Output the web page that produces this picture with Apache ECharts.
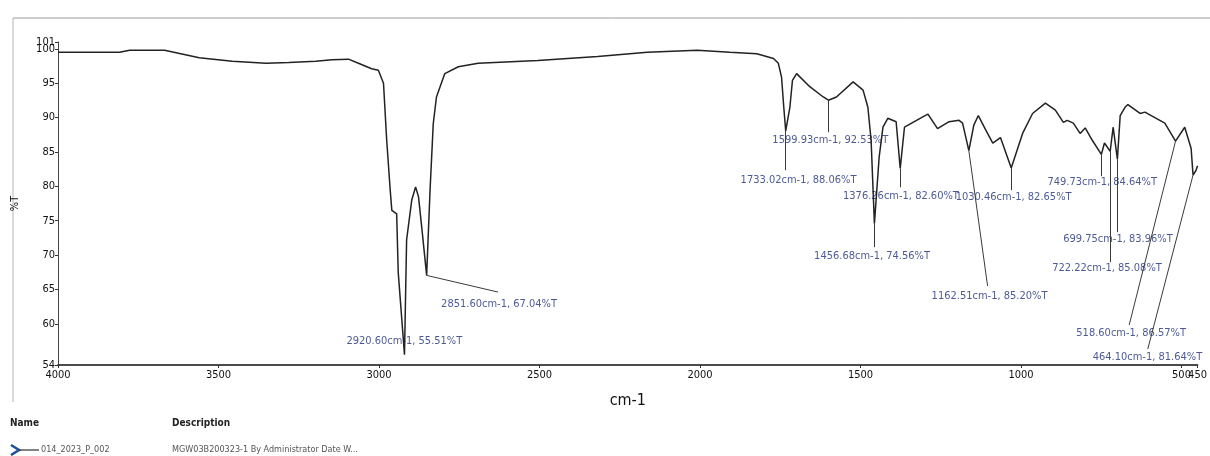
<!DOCTYPE html>
<html>
<head>
<meta charset="UTF-8">
<title>014_2023_P_002</title>
<script src="https://cdn.jsdelivr.net/npm/echarts@6/dist/echarts.min.js"></script>
<style>
html,body{margin:0;padding:0;background:#fff;}
#spectrum{width:1210px;height:456px;}
</style>
</head>
<body>
<div id="spectrum"></div>
<script>
// spectrum, wavenumber (cm-1) descending
var wavenumbers = [
  4000, 3808, 3777, 3668, 3560, 3457, 3352, 3281, 3197, 3147, 3095, 3064, 3023, 3002,
  2986, 2976, 2965, 2960, 2945, 2940, 2920.6, 2914, 2898, 2886, 2877, 2867, 2851.6,
  2841, 2831, 2821, 2795, 2753, 2691, 2505, 2319, 2164, 2009, 1907, 1823, 1771, 1756,
  1746, 1739, 1733.02, 1720, 1712, 1699, 1658, 1616, 1599.93, 1575, 1523, 1492, 1477,
  1467, 1456.68, 1442, 1430, 1415, 1389, 1376.26, 1363, 1306, 1290, 1260, 1224, 1193,
  1182, 1162.51, 1147, 1133, 1110, 1088, 1064, 1030.46, 995, 964, 924, 893, 868, 856,
  837, 816, 800, 778, 749.73, 740, 722.22, 713, 699.75, 691, 676, 667, 629, 614, 552,
  518.6, 490, 470, 464.1, 455, 450
];
var transmittance = [
  99.5, 99.5, 99.8, 99.8, 98.7, 98.2, 97.9, 98.0, 98.2, 98.4, 98.5, 97.9, 97.1, 96.9,
  95.0, 86.7, 79.4, 76.5, 76.0, 67.4, 55.51, 72.2, 78.0, 79.9, 78.5, 74.1, 67.04,
  79.4, 89.1, 93.0, 96.4, 97.4, 97.9, 98.3, 98.9, 99.5, 99.8, 99.5, 99.3, 98.6, 97.9,
  95.9, 91.5, 88.06, 91.5, 95.4, 96.4, 94.5, 93.0, 92.53, 93.0, 95.2, 94.0, 91.5,
  86.7, 74.56, 84.2, 88.6, 89.9, 89.4, 82.6, 88.6, 90.1, 90.5, 88.4, 89.4, 89.6,
  89.2, 85.2, 88.9, 90.3, 88.2, 86.3, 87.1, 82.65, 87.7, 90.6, 92.1, 91.1, 89.3, 89.6,
  89.2, 87.7, 88.5, 86.7, 84.64, 86.3, 85.08, 88.6, 83.96, 90.3, 91.5, 91.9, 90.6, 90.8, 89.2,
  86.57, 88.6, 85.5, 81.64, 82.3, 83.0
];
// tick labels; the crowded end ticks (450, 101) go on a second axis so they are not dropped
var xTicks = [4000, 3500, 3000, 2500, 2000, 1500, 1000, 500];
var xEndTick = [450];
var yTicks = [54, 60, 65, 70, 75, 80, 85, 90, 95, 100];
var yEndTick = [101];

// picked peaks and where their labels sit (data units)
var peakWn   = [2920.60, 2851.60, 1733.02, 1599.93, 1456.68, 1376.26, 1162.51, 1030.46, 749.73, 722.22, 699.75, 518.60, 464.10];
var peakT    = [55.51, 67.04, 88.06, 92.53, 74.56, 82.60, 85.20, 82.65, 84.64, 85.08, 83.96, 86.57, 81.64];
var leaderWn = [2920.6, 2629, 1733.02, 1599.93, 1456.68, 1376.26, 1104, 1030.46, 749.73, 722.22, 699.75, 663, 605];
var leaderT  = [55.51, 64.61, 82.34, 87.87, 71.15, 79.87, 65.48, 79.44, 81.47, 68.97, 73.33, 59.81, 56.33];
var labelWn  = [2921, 2626, 1693, 1594, 1464, 1374, 1098, 1023, 747, 732, 698, 657, 606];
var labelT   = [57.49, 62.87, 80.89, 86.70, 69.84, 78.56, 64.03, 78.42, 80.6, 68.1, 72.31, 58.65, 55.16];

var narrow = "'Liberation Sans Narrow', 'Arial Narrow', 'DejaVu Sans Condensed', sans-serif";

var curve = wavenumbers.map(function (w, i) { return [w, transmittance[i]]; });
var leaders = [];
var labels = [];
for (var i = 0; i < peakWn.length; i++) {
  if (leaderWn[i] !== peakWn[i] || leaderT[i] !== peakT[i]) {
    leaders.push([{coord: [peakWn[i], peakT[i]]}, {coord: [leaderWn[i], leaderT[i]]}]);
  }
  labels.push([labelWn[i], labelT[i], peakWn[i].toFixed(2) + 'cm-1, ' + peakT[i].toFixed(2) + '%T']);
}

function plain(v) { return String(v); }

function xAxisOf(ticks, main) {
  return {
    type: 'value', inverse: true, min: 450, max: 4000, position: 'bottom',
    name: main ? 'cm-1' : '', nameLocation: 'middle', nameGap: 28,
    nameTextStyle: {fontSize: 16, color: '#111', fontFamily: narrow},
    axisLine: {show: main, lineStyle: {color: '#111', width: 1.5}},
    axisTick: {show: true, customValues: ticks, length: 3, lineStyle: {color: '#333'}},
    axisLabel: {customValues: ticks, formatter: plain, fontSize: 11, color: '#111', margin: 5,
      fontFamily: narrow, hideOverlap: false},
    splitLine: {show: false}
  };
}
function yAxisOf(ticks, main) {
  return {
    type: 'value', min: 54, max: 101, position: 'left',
    name: main ? '%T' : '', nameLocation: 'middle', nameGap: 37, nameRotate: 90,
    nameTextStyle: {fontSize: 11, color: '#111', fontFamily: narrow},
    axisLine: {show: main, lineStyle: {color: '#444', width: 1}},
    axisTick: {show: true, customValues: ticks, length: 3, lineStyle: {color: '#333'}},
    axisLabel: {customValues: ticks, formatter: plain, fontSize: 11, color: '#111', margin: 3,
      fontFamily: narrow, hideOverlap: false},
    splitLine: {show: false}
  };
}

var chart = echarts.init(document.getElementById('spectrum'));
chart.setOption({
  animation: false,
  grid: {left: 58, right: 7, top: 42, bottom: 91},
  xAxis: [xAxisOf(xTicks, true), xAxisOf(xEndTick, false)],
  yAxis: [yAxisOf(yTicks, true), yAxisOf(yEndTick, false)],
  series: [
    {
      type: 'line', data: curve, showSymbol: false, silent: true,
      lineStyle: {color: '#222', width: 1.5},
      markLine: {
        silent: true, symbol: ['none', 'none'], label: {show: false},
        lineStyle: {color: '#3a3a3a', width: 1, type: 'solid'},
        data: leaders
      }
    },
    {
      type: 'scatter', data: labels, symbolSize: 1, silent: true,
      itemStyle: {color: 'rgba(0,0,0,0)'},
      label: {
        show: true, position: 'inside', fontSize: 11, color: '#1f2f7a', fontFamily: narrow,
        formatter: function (p) { return p.data[2]; }
      }
    }
  ],
  graphic: [
    {type: 'line', shape: {x1: 13, y1: 18, x2: 1210, y2: 18}, style: {stroke: '#9a9a9a', lineWidth: 1}},
    {type: 'line', shape: {x1: 13, y1: 18, x2: 13, y2: 402}, style: {stroke: '#b5b5b5', lineWidth: 1}},
    {type: 'text', left: 10, top: 418, style: {text: 'Name', fontSize: 10, fontWeight: 'bold', fill: '#222', fontFamily: narrow}},
    {type: 'text', left: 172, top: 418, style: {text: 'Description', fontSize: 10, fontWeight: 'bold', fill: '#222', fontFamily: narrow}},
    {type: 'polyline', shape: {points: [[11, 445], [19, 450], [11, 455]]}, style: {stroke: '#1f4e9c', lineWidth: 2.5, fill: null}},
    {type: 'line', shape: {x1: 19, y1: 450, x2: 39, y2: 450}, style: {stroke: '#333', lineWidth: 1.2}},
    {type: 'text', left: 41, top: 445, style: {text: '014_2023_P_002', fontSize: 9, fill: '#555', fontFamily: narrow}},
    {type: 'text', left: 172, top: 445, style: {text: 'MGW03B200323-1 By Administrator Date W...', fontSize: 9, fill: '#555', fontFamily: narrow}}
  ]
});
</script>
</body>
</html>
